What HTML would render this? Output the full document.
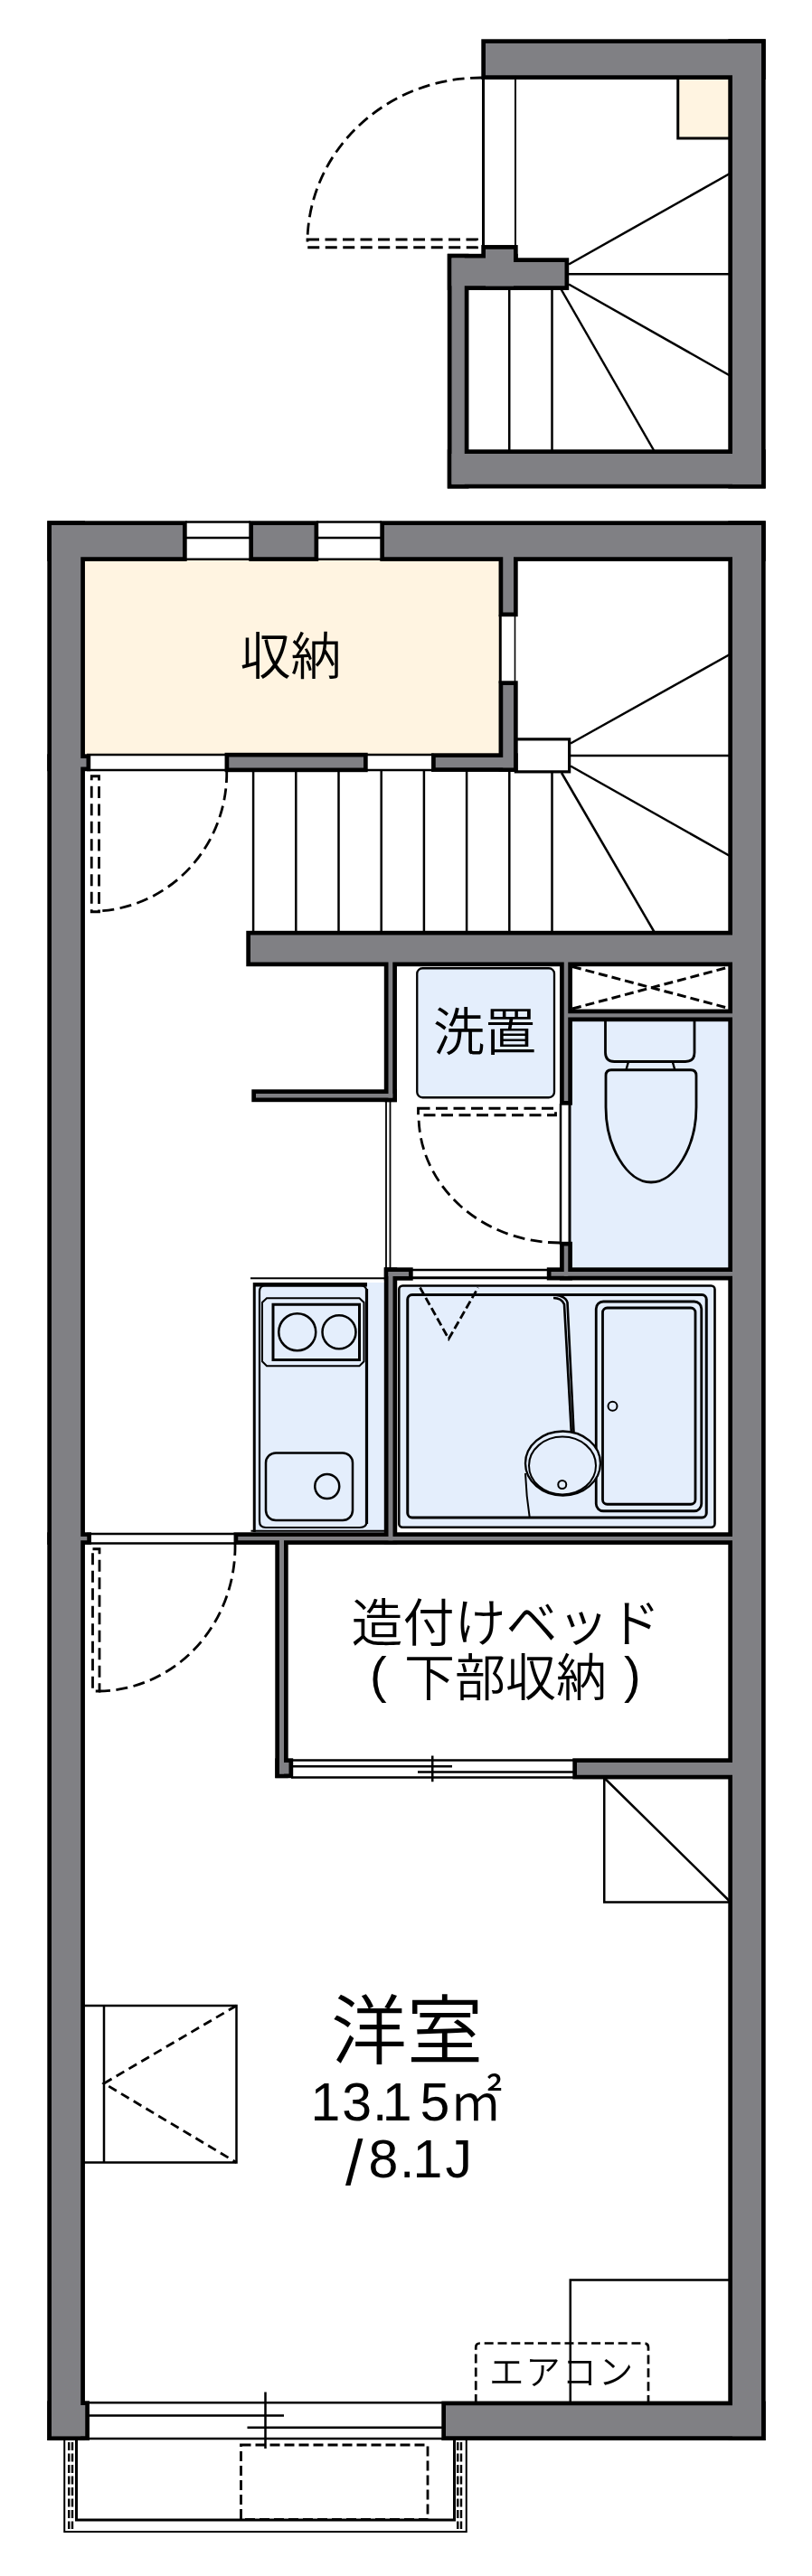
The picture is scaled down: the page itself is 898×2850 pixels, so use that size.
<!DOCTYPE html>
<html lang="ja"><head><meta charset="utf-8"><title>間取り図</title>
<style>html,body{margin:0;padding:0;background:#fff}svg{display:block;will-change:transform}text{font-family:"Liberation Sans","Noto Sans CJK JP",sans-serif;font-weight:350;fill:#000}.t{fill:none;stroke:#000;stroke-width:2.5}.d{fill:none;stroke:#000;stroke-width:2.8;stroke-dasharray:13 6.5}.b{fill:#e4eefc;stroke:#000;stroke-width:2.3}.w{fill:#fff;stroke:#000;stroke-width:2.3}</style></head><body>
<svg width="898" height="2850" viewBox="0 0 898 2850">
<rect width="898" height="2850" fill="#fff"/>
<rect x="749.75" y="86" width="58" height="67" fill="#fff4e1" stroke="#000" stroke-width="3"/>
<rect x="92" y="618" width="463" height="216.5" fill="#fff4e1"/>
<rect x="630" y="1127" width="179" height="279" fill="#e4eefc"/>
<rect x="281.25" y="1419" width="146" height="277" fill="#e4eefc"/>
<g class="t">
<path d="M534.5 87V273" stroke-width="3"/><path d="M570 87V287" stroke-width="2"/>
<path d="M563.25 319V499"/>
<path d="M610.5 319V499"/>
<path d="M620.5 320L723.5 499"/><path d="M629 314.5L808 416"/><path d="M629 303.25H808"/><path d="M629 292.5L808 191.5"/>
</g>
<rect class="d" x="340" y="265" width="187.5" height="8.75"/>
<path class="d" d="M533 86A192 183 0 0 0 340 265"/>
<g class="t">
<path d="M205 577.5H277M205 595H277M205 618.75H277"/>
<path d="M350 577.5H422M350 595H422M350 618.75H422"/>
<path d="M96 835H250M96 852H252" /><path d="M404 835H480M404 852H480"/>
<path d="M553.25 680V756" stroke-width="3"/><path d="M569.5 680V756" stroke-width="1.6"/>
<path d="M610.5 853V1031"/>
<path d="M563.3 853V1031"/>
<path d="M516.1 853V1031"/>
<path d="M468.9 853V1031"/>
<path d="M421.7 853V1031"/>
<path d="M374.5 853V1031"/>
<path d="M327.3 853V1031"/>
<path d="M280.1 853V1031"/>
<rect x="570.35" y="817.85" width="59.3" height="36" fill="#fff" stroke-width="3.2"/>
<path d="M631 822.5L808 723.5"/><path d="M631 836H808"/><path d="M631 847.5L808 947.5"/><path d="M621 855L723.5 1031"/>
</g>
<rect class="d" x="101.25" y="858.75" width="8.25" height="150"/>
<path class="d" d="M250.75 853A150 153 0 0 1 109 1008"/>
<path style="stroke-width:1.8" class="t" d="M427 1218V1404M431.5 1218V1404"/>
<rect class="b" x="461.25" y="1071.25" width="151.75" height="143" rx="6"/>
<path style="stroke-width:3;stroke-dasharray:10 5" class="d" d="M633 1069.5L808 1116M633 1116L808 1069.5"/>
<path style="stroke-width:2.8" class="b" d="M669.5 1128V1164.5Q669.5 1174.5 679.5 1174.5H758Q768 1174.5 768 1164.5V1128"/>
<path style="stroke-width:2.4" class="t" d="M695 1174.5L692.5 1183.5M743.75 1174.5L746.25 1183.5"/>
<path style="stroke-width:2.8" class="b" d="M676 1183.75H764Q770 1183.75 770 1190V1225C770 1268 747 1308 720 1308C693 1308 670 1268 670 1225V1190Q670 1183.75 676 1183.75Z"/>
<rect x="620" y="1219" width="10" height="158" fill="#fff"/>
<path class="t" d="M620 1221V1377"/><path style="stroke-width:3" class="t" d="M630 1221V1377"/>
<rect class="d" x="462.5" y="1226.25" width="152" height="7.5"/>
<path class="d" d="M619 1375A156 141 0 0 1 463 1234"/>
<path class="t" d="M456 1405H607"/><path style="stroke-width:3" class="t" d="M456 1413.75H607"/>
<rect style="stroke-width:2.6" class="b" x="441.25" y="1422.5" width="349.25" height="267.25" rx="4"/>
<rect style="stroke-width:3" class="t" x="450.75" y="1432.5" width="330.5" height="246.5" rx="5"/>
<path style="stroke-dasharray:9 4" class="d" d="M464.5 1424.5L496.25 1481.25L528.75 1424.5"/>
<rect style="stroke-width:2.8" class="t" x="659.25" y="1440" width="116.5" height="231.75" rx="8"/>
<rect style="stroke-width:2.8" class="t" x="666.5" y="1447" width="102.5" height="217.25" rx="5"/>
<circle style="stroke-width:2" class="t" cx="677.5" cy="1555.75" r="5"/>
<path style="stroke-width:2.6" class="t" d="M609 1432.5Q625 1432.5 627.5 1441L634.5 1584M612 1436Q621 1436 624 1443L631.8 1584"/>
<ellipse class="b" cx="622.5" cy="1619" rx="41.5" ry="35.5"/><ellipse style="stroke-width:2" class="t" cx="622" cy="1621.5" rx="37" ry="32"/><circle style="stroke-width:2" class="t" cx="621.75" cy="1642.5" r="4.5"/>
<path style="stroke-width:2" class="t" d="M581 1630Q582 1655 585.75 1679"/>
<path style="stroke-width:2" class="t" d="M277 1414.25H425"/><path style="stroke-width:4.5" class="t" d="M280 1421.25H406"/>
<path style="stroke-width:3" class="t" d="M281.25 1419V1695"/><path style="stroke-width:2" class="t" d="M277.5 1693.75H425"/>
<path style="stroke-width:2.2" class="t" d="M287 1429Q287 1422.5 293 1422.5H399Q405.5 1422.5 405.5 1429V1683Q405.5 1690 398 1690H294Q287 1690 287 1683Z"/><path style="stroke-width:3.2" class="t" d="M405.5 1426V1686"/>
<path style="stroke-width:2" class="t" d="M295 1436.25H397.5L402.5 1441V1506.25L397.5 1511.25H295L290 1506.25V1441Z"/>
<rect style="stroke-width:3" class="t" x="302" y="1443.25" width="95.5" height="61.25"/>
<circle class="t" cx="328.75" cy="1473.75" r="20.5"/><circle class="t" cx="375" cy="1473.75" r="18.5"/>
<rect class="t" x="294" y="1607.5" width="96" height="74.5" rx="11"/>
<circle class="t" cx="361.75" cy="1644.5" r="13.5"/>
<path class="t" d="M96 1697H259M96 1707.5H259"/>
<rect class="d" x="102.5" y="1713.75" width="7.5" height="157.25"/>
<path class="d" d="M260 1708A152 160 0 0 1 108 1871"/>
<path class="t" d="M322 1947.5H634M322 1954.25H500M462 1960.5H634M322 1966.5H634M478.25 1942.5V1971.25"/>
<path class="t" d="M668.25 1966V2104.5H808M668.25 1967L808 2104.5"/>
<path class="t" d="M92 2219H261.5V2392.5H92M115 2219V2392.5"/>
<path style="stroke-dasharray:10 6" class="d" d="M261.5 2219L115 2305L261.5 2392.5"/>
<path class="t" d="M808 2522.5H630.75V2659"/>
<path style="stroke-width:2.7;stroke-dasharray:10 4.8" class="d" d="M526.25 2659V2597Q526.25 2592.5 531 2592.5H712Q717 2592.5 717 2597V2659"/>
<path class="t" d="M97 2658.25H490M97 2672.5H314M273.5 2685.75H490M97 2698H490M293.5 2646.5V2709"/>
<path style="stroke-width:2" class="t" d="M71.25 2699V2801H515.75V2699"/><path style="stroke-width:3" class="t" d="M84.5 2699V2788H502.5V2699"/>
<path style="stroke-width:2.4;stroke-dasharray:9 3.5" class="d" d="M76.25 2702V2798M80 2702V2798M506.25 2702V2798M510 2702V2798"/>
<rect style="stroke-dasharray:11 5" class="d" x="266.5" y="2705" width="206.5" height="82.5"/>
<g fill="#000" stroke="#000" stroke-width="9.4" stroke-linejoin="miter">
<rect x="537" y="48" width="305.00" height="35.25"/>
<rect x="810" y="48" width="32.00" height="487.75"/>
<rect x="499.5" y="502" width="342.50" height="33.75"/>
<rect x="499.5" y="285.5" width="14.25" height="250.25"/>
<rect x="499.5" y="285.5" width="68.50" height="30.75"/>
<rect x="537" y="275.75" width="31.00" height="40.50"/>
<rect x="537" y="290" width="87.50" height="26.25"/>
<rect x="57" y="581" width="145.00" height="35.25"/>
<rect x="280" y="581" width="67.50" height="35.25"/>
<rect x="425" y="581" width="417.00" height="35.25"/>
<rect x="57" y="581" width="32.25" height="2114.25"/>
<rect x="57" y="2661" width="37.25" height="34.25"/>
<rect x="57" y="839" width="38.50" height="9.50"/>
<rect x="57" y="1700" width="39.25" height="4.25"/>
<rect x="810" y="581" width="32.00" height="2114.25"/>
<rect x="493" y="2661.25" width="349.00" height="34.00"/>
<rect x="556.25" y="616" width="11.75" height="61.50"/>
<rect x="556.25" y="758" width="11.75" height="91.25"/>
<rect x="481.75" y="838" width="86.25" height="11.25"/>
<rect x="253.25" y="837.5" width="148.75" height="12.00"/>
<rect x="277" y="1034.5" width="533.00" height="30.00"/>
<rect x="429.5" y="1064" width="4.75" height="150.50"/>
<rect x="283" y="1210" width="151.25" height="4.50"/>
<rect x="623.75" y="1064" width="4.50" height="154.00"/>
<rect x="623.75" y="1378.5" width="4.50" height="33.25"/>
<rect x="628" y="1121.25" width="182.00" height="4.25"/>
<rect x="609.5" y="1407" width="200.50" height="4.75"/>
<rect x="429.5" y="1407" width="22.50" height="5.00"/>
<rect x="429.5" y="1407" width="5.00" height="297.25"/>
<rect x="263.25" y="1700" width="546.75" height="4.25"/>
<rect x="309" y="1704" width="5.00" height="258.50"/>
<rect x="309" y="1950" width="10.50" height="12.50"/>
<rect x="638" y="1950" width="172.00" height="13.75"/>
</g>
<g fill="#808084">
<rect x="537" y="48" width="305.00" height="35.25"/>
<rect x="810" y="48" width="32.00" height="487.75"/>
<rect x="499.5" y="502" width="342.50" height="33.75"/>
<rect x="499.5" y="285.5" width="14.25" height="250.25"/>
<rect x="499.5" y="285.5" width="68.50" height="30.75"/>
<rect x="537" y="275.75" width="31.00" height="40.50"/>
<rect x="537" y="290" width="87.50" height="26.25"/>
<rect x="57" y="581" width="145.00" height="35.25"/>
<rect x="280" y="581" width="67.50" height="35.25"/>
<rect x="425" y="581" width="417.00" height="35.25"/>
<rect x="57" y="581" width="32.25" height="2114.25"/>
<rect x="57" y="2661" width="37.25" height="34.25"/>
<rect x="57" y="839" width="38.50" height="9.50"/>
<rect x="57" y="1700" width="39.25" height="4.25"/>
<rect x="810" y="581" width="32.00" height="2114.25"/>
<rect x="493" y="2661.25" width="349.00" height="34.00"/>
<rect x="556.25" y="616" width="11.75" height="61.50"/>
<rect x="556.25" y="758" width="11.75" height="91.25"/>
<rect x="481.75" y="838" width="86.25" height="11.25"/>
<rect x="253.25" y="837.5" width="148.75" height="12.00"/>
<rect x="277" y="1034.5" width="533.00" height="30.00"/>
<rect x="429.5" y="1064" width="4.75" height="150.50"/>
<rect x="283" y="1210" width="151.25" height="4.50"/>
<rect x="623.75" y="1064" width="4.50" height="154.00"/>
<rect x="623.75" y="1378.5" width="4.50" height="33.25"/>
<rect x="628" y="1121.25" width="182.00" height="4.25"/>
<rect x="609.5" y="1407" width="200.50" height="4.75"/>
<rect x="429.5" y="1407" width="22.50" height="5.00"/>
<rect x="429.5" y="1407" width="5.00" height="297.25"/>
<rect x="263.25" y="1700" width="546.75" height="4.25"/>
<rect x="309" y="1704" width="5.00" height="258.50"/>
<rect x="309" y="1950" width="10.50" height="12.50"/>
<rect x="638" y="1950" width="172.00" height="13.75"/>
</g>
<text x="321.5" y="746" font-size="56" text-anchor="middle">収納</text>
<text x="536" y="1162" font-size="57" text-anchor="middle">洗置</text>
<text x="559.5" y="1816" font-size="57" text-anchor="middle">造付けベッド</text>
<text y="1876" font-size="56"><tspan x="409" dy="-4">(</tspan><tspan x="447" dy="4">下部収納</tspan><tspan x="690" dy="-4">)</tspan></text>
<text x="450" y="2277" font-size="84" text-anchor="middle">洋室</text>
<text x="343.5 378.2 412.1 422.7 464.5 496.7" y="2346" font-size="59">13.15㎡</text>
<text x="382" y="2416.5" font-size="70">/</text><text x="407.4 441.9 456.5 492.6" y="2409" font-size="59">8.1J</text>
<text x="621.5" y="2637.5" font-size="38.5" letter-spacing="1.7" text-anchor="middle">エアコン</text>
</svg></body></html>
